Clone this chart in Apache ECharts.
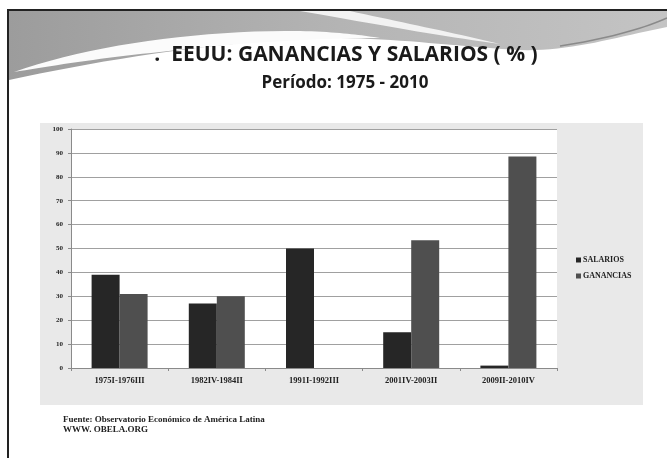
<!DOCTYPE html>
<html>
<head>
<meta charset="utf-8">
<script src="https://cdn.jsdelivr.net/npm/echarts@6/dist/echarts.min.js"></script>
<style>
	html, body { margin: 0; padding: 0; background: #fff; }
	#chart { width: 667px; height: 458px; }
</style>
</head>
<body>
<div id="chart"></div>
<script>
	// periodos de recuperacion
	var periodos = ['1975I-1976III', '1982IV-1984II', '1991I-1992III', '2001IV-2003II', '2009II-2010IV'];
	var salarios = [39, 27, 50, 15, 1];
	var ganancias = [31, 30, 0, 53.5, 88.5];
	var yTicks = [0, 100, 10];

	var chart = echarts.init(document.getElementById('chart'));

	var serif = '"Liberation Serif", "DejaVu Serif", serif';

	// curva bezier cubica -> lista de puntos (solo para el adorno de la cabecera)
	function curva(p0, p1, p2, p3) {
		var pts = [];
		for (var i = 0; i <= 20; i++) {
			var t = i / 20, u = 1 - t;
			pts.push([
				u * u * u * p0[0] + 3 * u * u * t * p1[0] + 3 * u * t * t * p2[0] + t * t * t * p3[0],
				u * u * u * p0[1] + 3 * u * u * t * p1[1] + 3 * u * t * t * p2[1] + t * t * t * p3[1]
			]);
		}
		return pts;
	}

	var cabecera = [[9, 11], [667, 11]]
		.concat(curva([667, 27], [620, 36], [570, 52], [520, 50]))
		.concat(curva([520, 50], [460, 47], [400, 38], [330, 38]))
		.concat(curva([330, 38], [230, 40], [110, 58], [9, 80]));
	var ola = curva([14, 72], [90, 45], [200, 30], [300, 31])
		.concat(curva([300, 31], [340, 32], [360, 35], [380, 38]))
		.concat(curva([380, 38], [340, 38], [260, 40], [160, 52]))
		.concat(curva([160, 52], [100, 58], [50, 66], [14, 72]));
	var estela = [[300, 11], [350, 11]]
		.concat(curva([350, 11], [400, 22], [450, 32], [500, 44]))
		.concat(curva([500, 44], [440, 36], [380, 25], [300, 11]));

	var option = {
		animation: false,
		backgroundColor: '#fff',
		title: [{
			text: '.  EEUU: GANANCIAS Y SALARIOS ( % )',
			left: 341,
			top: 40,
			textAlign: 'center',
			textStyle: { fontFamily: 'Open Sans', fontWeight: 'bold', fontSize: 21, color: '#1a1a1a' }
		}, {
			text: 'Período: 1975 - 2010',
			left: 340,
			top: 70,
			textAlign: 'center',
			textStyle: { fontFamily: 'Open Sans', fontWeight: 'bold', fontSize: 17, color: '#1a1a1a' }
		}, {
			text: 'Fuente: Observatorio Económico de América Latina\nWWW. OBELA.ORG',
			left: 58,
			top: 410,
			textStyle: { fontFamily: serif, fontWeight: 'bold', fontSize: 9, color: '#222', lineHeight: 10 }
		}],
		graphic: [
			// marco de la diapositiva
			{ type: 'rect', z: 0, shape: { x: 8, y: 10, width: 670, height: 460 }, style: { fill: 'none', stroke: '#222', lineWidth: 2 } },
			// cabecera gris
			{
				type: 'polygon', z: 1,
				shape: { points: cabecera },
				style: {
					fill: {
						type: 'linear', x: 0, y: 0, x2: 1, y2: 0,
						colorStops: [
							{ offset: 0, color: '#9c9c9c' },
							{ offset: 0.5, color: '#b4b4b4' },
							{ offset: 1, color: '#c4c4c4' }
						]
					}
				}
			},
			{ type: 'polygon', z: 2, shape: { points: ola }, style: { fill: '#fbfbfb' } },
			{ type: 'polygon', z: 2, shape: { points: estela }, style: { fill: '#f2f2f2' } },
			{ type: 'polyline', z: 2, shape: { points: curva([560, 46], [600, 40], [640, 30], [667, 18]) }, style: { stroke: '#8a8a8a', lineWidth: 1.5 } },
			// fondo del grafico
			{ type: 'rect', z: -1, shape: { x: 40, y: 123, width: 603, height: 282 }, style: { fill: '#e9e9e9' } }
		],
		legend: {
			orient: 'vertical',
			left: 571,
			top: 251,
			itemWidth: 5,
			itemHeight: 5,
			itemGap: 8,
			icon: 'rect',
			textStyle: { fontFamily: serif, fontWeight: 'bold', fontSize: 8, color: '#222', padding: [0, 0, 0, -3] },
			data: ['SALARIOS', 'GANANCIAS']
		},
		grid: {
			left: 71,
			right: 110,
			top: 129,
			bottom: 90,
			show: true,
			backgroundColor: '#fff',
			borderWidth: 0
		},
		xAxis: {
			type: 'category',
			data: periodos,
			axisLine: { lineStyle: { color: '#8a8a8a' } },
			axisTick: { show: true, length: 3, lineStyle: { color: '#8a8a8a' } },
			axisLabel: { fontFamily: serif, fontWeight: 'bold', fontSize: 8.5, color: '#222', margin: 8 }
		},
		yAxis: {
			type: 'value',
			min: yTicks[0],
			max: yTicks[1],
			interval: yTicks[2],
			axisLine: { show: true, lineStyle: { color: '#8a8a8a' } },
			axisTick: { show: true, length: 3, lineStyle: { color: '#8a8a8a' } },
			axisLabel: { fontFamily: serif, fontWeight: 'bold', fontSize: 7, color: '#222', margin: 8 },
			splitLine: { lineStyle: { color: '#a0a0a0' } }
		},
		series: [{
			name: 'SALARIOS',
			type: 'bar',
			barWidth: 28,
			barGap: '0%',
			itemStyle: { color: '#262626' },
			data: salarios
		}, {
			name: 'GANANCIAS',
			type: 'bar',
			barWidth: 28,
			itemStyle: { color: '#4f4f4f' },
			data: ganancias
		}]
	};

	chart.setOption(option);
</script>
</body>
</html>
